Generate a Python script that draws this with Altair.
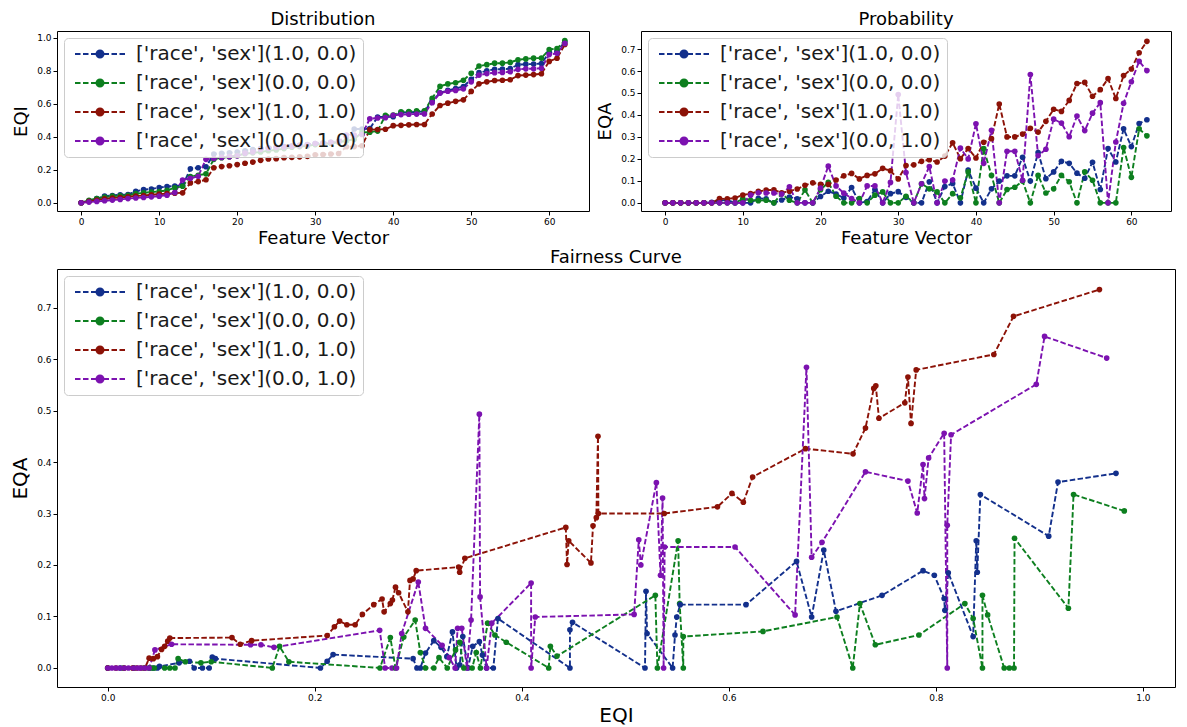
import altair as alt
import pandas as pd

# ---------------- data ----------------
SERIES = ["['race', 'sex'](1.0, 0.0)", "['race', 'sex'](0.0, 0.0)",
          "['race', 'sex'](1.0, 1.0)", "['race', 'sex'](0.0, 1.0)"]
COLORS = ["#13308c", "#0d7f1f", "#8c1207", "#7c12b0"]

blue_eqi = [0.000, 0.012, 0.025, 0.040, 0.044, 0.048, 0.050, 0.069, 0.079, 0.0835, 0.0915, 0.098, 0.101, 0.104,
            0.2055, 0.212, 0.2177, 0.295, 0.2987, 0.302, 0.307, 0.315, 0.322, 0.3276, 0.333, 0.337, 0.340, 0.343,
            0.348, 0.3526, 0.359, 0.362, 0.366, 0.3725, 0.377, 0.4465, 0.4465, 0.449, 0.519, 0.520, 0.521, 0.5457,
            0.548, 0.5497, 0.553, 0.6166, 0.6654, 0.680, 0.6917, 0.7035, 0.748, 0.7876, 0.7985, 0.808, 0.8087,
            0.812, 0.836, 0.839, 0.840, 0.843, 0.909, 0.918, 0.974]
blue_eqa = [0, 0, 0, 0, 0, 0, 0.003, 0.010, 0.013, 0, 0, 0, 0.021, 0.018, 0, 0.013, 0.026, 0.018, 0, 0, 0.029,
            0.053, 0.040, 0.022, 0.070, 0, 0.006, 0.061, 0, 0.042, 0.051, 0.025, 0, 0, 0.096, 0, 0.074, 0.0886, 0,
            0.149, 0.067, 0, 0.064, 0.099, 0.123, 0.123, 0.207, 0.099, 0.229, 0.110, 0.141, 0.189, 0.180, 0.135,
            0.112, 0.185, 0.061, 0.247, 0.186, 0.337, 0.256, 0.361, 0.378]

green_eqi = [0.000, 0.015, 0.025, 0.035, 0.040, 0.042, 0.045, 0.055, 0.060, 0.065, 0.068, 0.075, 0.090, 0.100,
             0.159, 0.166, 0.175, 0.263, 0.273, 0.278, 0.286, 0.297, 0.302, 0.307, 0.315, 0.320, 0.328, 0.336,
             0.340, 0.344, 0.352, 0.356, 0.360, 0.367, 0.374, 0.385, 0.426, 0.4276, 0.434, 0.529, 0.531, 0.551,
             0.5525, 0.556, 0.556, 0.633, 0.7045, 0.7197, 0.7266, 0.7415, 0.7836, 0.828, 0.836, 0.845,
             0.845, 0.850, 0.866, 0.871, 0.8755, 0.876, 0.928, 0.933, 0.982]
green_eqa = [0, 0, 0, 0, 0, 0, 0, 0, 0, 0, 0.018, 0.012, 0.010, 0.012, 0, 0.042, 0.012, 0, 0.059, 0, 0.060,
             0.093, 0.030, 0, 0, 0.020, 0, 0.035, 0.050, 0, 0, 0.030, 0, 0.087, 0.064, 0.050, 0, 0.042, 0.023,
             0.141, 0, 0.247, 0.125, 0, 0.061, 0.071, 0.099, 0, 0.125, 0.045, 0.064, 0.125, 0.096, 0,
             0.141, 0.103, 0, 0, 0, 0.252, 0.116, 0.337, 0.305]

red_eqi = [0.000, 0.008, 0.016, 0.024, 0.028, 0.032, 0.036, 0.040, 0.044, 0.048, 0.052, 0.055, 0.058, 0.060,
           0.120, 0.128, 0.139, 0.212, 0.219, 0.224, 0.231, 0.239, 0.246, 0.257, 0.265, 0.267, 0.273, 0.275,
           0.278, 0.281, 0.290, 0.292, 0.295, 0.298, 0.339, 0.340, 0.345, 0.4425, 0.4437, 0.4453, 0.4668,
           0.4688, 0.472, 0.4736, 0.474, 0.5376, 0.589, 0.603, 0.614, 0.623, 0.674, 0.720, 0.732, 0.740, 0.742,
           0.745, 0.770, 0.773, 0.776, 0.781, 0.856, 0.875, 0.958]
red_eqa = [0, 0, 0, 0, 0, 0, 0, 0.019, 0.018, 0.022, 0.036, 0.042, 0.052, 0.058, 0.059, 0.046, 0.053, 0.063,
           0.080, 0.091, 0.084, 0.084, 0.104, 0.123, 0.134, 0.109, 0.125, 0.132, 0.157, 0.146, 0.109, 0.170,
           0.173, 0.189, 0.196, 0.186, 0.213, 0.273, 0.201, 0.247, 0.204, 0.276, 0.292, 0.450, 0.300, 0.300,
           0.313, 0.339, 0.322, 0.371, 0.426, 0.416, 0.466, 0.543, 0.548, 0.485, 0.515, 0.565, 0.475, 0.579,
           0.609, 0.683, 0.735]

purple_eqi = [0.000, 0.004, 0.008, 0.012, 0.016, 0.020, 0.025, 0.029, 0.032, 0.036, 0.040, 0.0456,
              0.0617, 0.138, 0.148, 0.1606, 0.2627, 0.268, 0.2746, 0.279, 0.284, 0.300, 0.307, 0.323, 0.330,
              0.3356, 0.338, 0.342, 0.347, 0.351, 0.359, 0.3597, 0.366, 0.371, 0.409, 0.409, 0.413, 0.5085,
              0.513, 0.515, 0.530, 0.534, 0.536, 0.537, 0.538, 0.606, 0.664, 0.675, 0.680, 0.690, 0.732, 0.773,
              0.782, 0.7876, 0.789, 0.793, 0.808, 0.811, 0.811, 0.8147, 0.897, 0.905, 0.965]
purple_eqa = [0, 0, 0, 0, 0, 0, 0, 0, 0, 0, 0, 0.035, 0.046, 0.045, 0.045, 0.040, 0.073, 0, 0, 0, 0.067,
              0.167, 0.077, 0.044, 0.020, 0, 0.077, 0.077, 0, 0.093, 0.493, 0.138, 0, 0.087, 0.165, 0, 0.099,
              0.104, 0.249, 0.200, 0.360, 0.180, 0.330, 0, 0.235, 0.235, 0.103, 0.584, 0.215, 0.244, 0.381,
              0.363, 0.301, 0.395, 0.329, 0.408, 0.456, 0, 0.277, 0.453, 0.551, 0.644, 0.602]

EQI_LISTS = [blue_eqi, green_eqi, red_eqi, purple_eqi]
EQA_LISTS = [blue_eqa, green_eqa, red_eqa, purple_eqa]

frames = []
for name, xs, ys in zip(SERIES, EQI_LISTS, EQA_LISTS):
    frames.append(pd.DataFrame({"series": name, "idx": list(range(len(xs))), "eqi": xs, "eqa": ys}))
df = pd.concat(frames, ignore_index=True)

# ---------------- styling helpers ----------------
FONT = "DejaVu Sans"
color_scale = alt.Scale(domain=SERIES, range=COLORS)

SYMBOL = ("M-5,0H-3.9M-3.4,0H-2.3M-1.8,0H-0.7M0.7,0H1.8M2.3,0H3.4M3.9,0H5"
          "M-0.7,0A0.7,0.7,0,1,0,0.7,0A0.7,0.7,0,1,0,-0.7,0Z")


def make_legend():
    return alt.Legend(
        title=None, orient="top-left", offset=7,
        labelFont=FONT, labelFontSize=20, labelColor="#1a1a1a", labelLimit=600,
        symbolType=SYMBOL, symbolSize=100, symbolStrokeWidth=2,
        symbolOffset=20, labelOffset=26,
        fillColor="rgba(255,255,255,0.8)", strokeColor="#cccccc", cornerRadius=4,
        padding=6, rowPadding=9,
    )


def panel(xfield, yfield, xdom, ydom, xvals, yvals, xfmt, xtitle, ytitle, title, w, h, tsize):
    return alt.Chart(df).mark_line(
        strokeDash=[5.5, 2.4], strokeWidth=1.9,
        point=alt.OverlayMarkDef(filled=True, size=32, opacity=1),
    ).encode(
        x=alt.X(f"{xfield}:Q", scale=alt.Scale(domain=xdom, nice=False, zero=False),
                axis=alt.Axis(values=xvals, format=xfmt, title=xtitle, titleFontSize=tsize, titlePadding=3)),
        y=alt.Y(f"{yfield}:Q", scale=alt.Scale(domain=ydom, nice=False, zero=False),
                axis=alt.Axis(values=yvals, format=".1f", title=ytitle, titleFontSize=tsize, titlePadding=6)),
        color=alt.Color("series:N", scale=color_scale, legend=make_legend()),
        order=alt.Order("idx:Q"),
    ).properties(width=w, height=h, title=alt.Title(title, fontSize=18))


FV_TICKS = [0, 10, 20, 30, 40, 50, 60]
EQI_TICKS = [0.0, 0.2, 0.4, 0.6, 0.8, 1.0]
EQA_TICKS = [0.0, 0.1, 0.2, 0.3, 0.4, 0.5, 0.6, 0.7]

dist = panel("idx", "eqi", [-3.1, 65.1], [-0.05, 1.04], FV_TICKS, EQI_TICKS, "d",
             "Feature Vector", "EQI", "Distribution", 532, 180, 18)
prob = panel("idx", "eqa", [-3.1, 65.1], [-0.037, 0.782], FV_TICKS, EQA_TICKS, "d",
             "Feature Vector", "EQA", "Probability", 530, 180, 18)
fair = panel("eqi", "eqa", [-0.049, 1.031], [-0.037, 0.775], EQI_TICKS, EQA_TICKS, ".1f",
             "EQI", "EQA", "Fairness Curve", 1118, 418, 20)

top = alt.hconcat(dist, prob, spacing=6).resolve_legend(color="independent")
chart = alt.vconcat(top, fair, spacing=0).resolve_legend(color="independent").configure(
    background="white", padding=2,
).configure_view(
    stroke="black", strokeWidth=1,
).configure_axis(
    domain=False, grid=False, tickColor="black", tickSize=4, labelFontSize=9, labelColor="black",
    titleColor="black", titleFontWeight="normal", labelFont=FONT, titleFont=FONT, labelPadding=2,
).configure_title(
    font=FONT, fontWeight="normal", color="black", anchor="middle", frame="group", offset=2,
)

chart.save("out.html", embed_options={"renderer": "svg", "actions": False})
